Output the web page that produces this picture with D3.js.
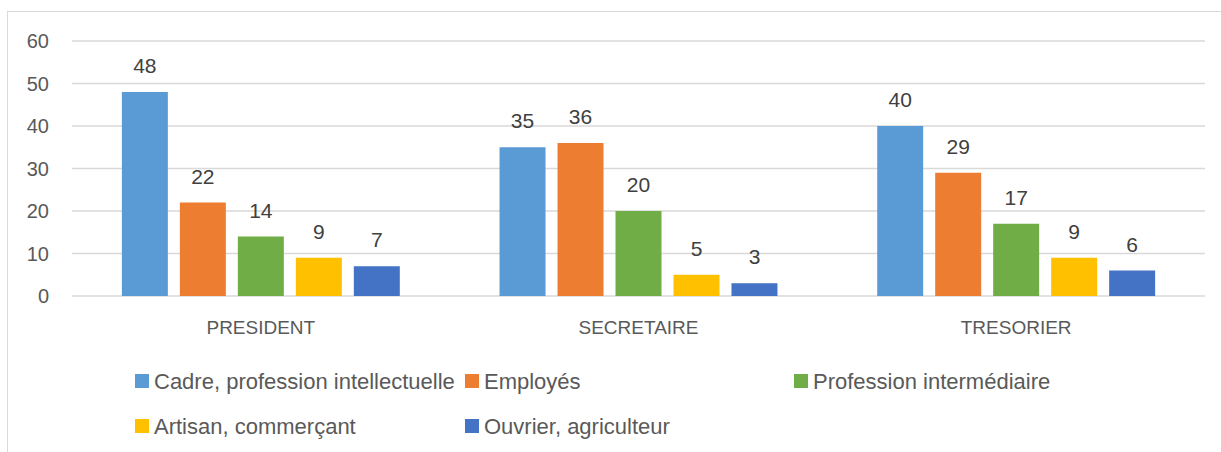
<!DOCTYPE html>
<html>
<head>
<meta charset="utf-8">
<script src="https://cdn.jsdelivr.net/npm/d3@7"></script>
<style>
  body { margin: 0; background: #fff; }
  text { font-family: "Liberation Sans", Arial, sans-serif; fill: #595959; }
</style>
</head>
<body>
<div class="chart"></div>
<script>
const categories = ['PRESIDENT', 'SECRETAIRE', 'TRESORIER'];
const seriesNames = [
  'Cadre, profession intellectuelle',
  'Employés',
  'Profession intermédiaire',
  'Artisan, commerçant',
  'Ouvrier, agriculteur'
];
const colors = ['#5B9BD5', '#ED7D31', '#70AD47', '#FFC000', '#4472C4'];
// values per series, in category order
const cadre = [48, 35, 40];
const employes = [22, 36, 29];
const intermediaire = [14, 20, 17];
const artisan = [9, 5, 9];
const ouvrier = [7, 3, 6];
const yTicks = [0, 10, 20, 30, 40, 50, 60];

const seriesValues = [cadre, employes, intermediaire, artisan, ouvrier];

const width = 1221;
const height = 452;
const margin = { top: 41, left: 72, right: 16, bottom: 156 };

const svg = d3.select('.chart').append('svg')
  .attr('width', width)
  .attr('height', height);

// chart frame
svg.append('rect')
  .attr('x', 7.5).attr('y', 11.5)
  .attr('width', width).attr('height', height)
  .attr('fill', 'none')
  .attr('stroke', '#d9d9d9');

const x0 = d3.scaleBand()
  .domain(categories)
  .range([margin.left, width - margin.right])
  .paddingInner(0)
  .paddingOuter(0);

const x1 = d3.scaleBand()
  .domain(seriesNames)
  .range([0, x0.bandwidth()])
  .paddingInner(0.207)
  .paddingOuter(0.86);

const y = d3.scaleLinear()
  .domain([0, 60])
  .range([height - margin.bottom, margin.top]);

// grid
svg.append('g')
  .selectAll('line')
  .data(yTicks)
  .join('line')
  .attr('x1', margin.left)
  .attr('x2', width - margin.right)
  .attr('y1', d => y(d))
  .attr('y2', d => y(d))
  .attr('stroke', '#d9d9d9')
  .attr('stroke-width', 1.3);

// y labels
svg.append('g')
  .selectAll('text')
  .data(yTicks)
  .join('text')
  .attr('x', 49)
  .attr('y', d => y(d))
  .attr('dy', '0.35em')
  .attr('text-anchor', 'end')
  .style('font-size', '20px')
  .text(d => d);

const bars = [];
seriesNames.forEach((s, si) => {
  categories.forEach((c, ci) => {
    bars.push({ series: s, cat: c, value: seriesValues[si][ci], color: colors[si] });
  });
});

svg.append('g')
  .selectAll('rect')
  .data(bars)
  .join('rect')
  .attr('x', d => x0(d.cat) + x1(d.series))
  .attr('y', d => y(d.value))
  .attr('width', x1.bandwidth())
  .attr('height', d => y(0) - y(d.value))
  .attr('fill', d => d.color);

svg.append('g')
  .selectAll('text')
  .data(bars)
  .join('text')
  .attr('x', d => x0(d.cat) + x1(d.series) + x1.bandwidth() / 2)
  .attr('y', d => y(d.value) - 19)
  .attr('text-anchor', 'middle')
  .style('font-size', '21px')
  .style('fill', '#404040')
  .text(d => d.value);

// category labels
svg.append('g')
  .selectAll('text')
  .data(categories)
  .join('text')
  .attr('x', d => x0(d) + x0.bandwidth() / 2)
  .attr('y', 334)
  .attr('text-anchor', 'middle')
  .style('font-size', '19px')
  .text(d => d);

// legend
const legendPos = [
  { x: 135, y: 381 }, { x: 465, y: 381 }, { x: 794, y: 381 },
  { x: 135, y: 426 }, { x: 465, y: 426 }
];
const legend = svg.append('g')
  .selectAll('g')
  .data(seriesNames)
  .join('g')
  .attr('transform', (d, i) => `translate(${legendPos[i].x},${legendPos[i].y})`);

legend.append('rect')
  .attr('x', 0).attr('y', -7)
  .attr('width', 14).attr('height', 14)
  .attr('fill', (d, i) => colors[i]);

legend.append('text')
  .attr('x', 19)
  .attr('dy', '0.35em')
  .style('font-size', '22px')
  .text(d => d);
</script>
</body>
</html>
